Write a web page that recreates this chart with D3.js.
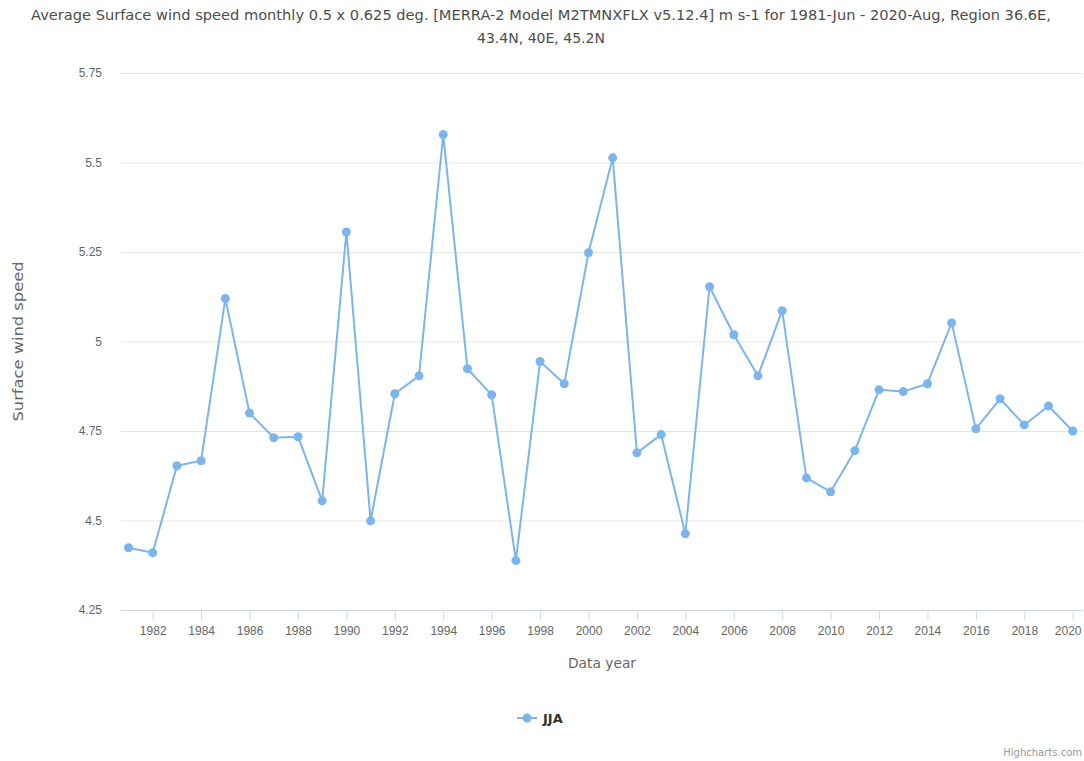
<!DOCTYPE html>
<html>
<head>
<meta charset="utf-8">
<script src="https://cdn.jsdelivr.net/npm/d3@7/dist/d3.min.js"></script>
<style>
  html, body { margin: 0; padding: 0; background: #ffffff; }
  svg { display: block; font-family: "DejaVu Sans", "Lucida Grande", Arial, sans-serif; }
</style>
</head>
<body>
<svg id="chart" width="1084" height="761"></svg>
<script>
// Summer (JJA) mean surface wind speed, m s-1
const years = d3.range(1981, 2021);
const jja = [
  4.424, 4.41, 4.653, 4.667, 5.12, 4.80, 4.731, 4.734, 4.555, 5.306,
  4.499, 4.854, 4.904, 5.578, 4.924, 4.851, 4.388, 4.944, 4.882, 5.248,
  5.513, 4.689, 4.74, 4.463, 5.153, 5.019, 4.904, 5.086, 4.619, 4.580,
  4.695, 4.865, 4.86, 4.882, 5.052, 4.756, 4.84, 4.767, 4.82, 4.75
];
const yTicks = [4.25, 4.5, 4.75, 5, 5.25, 5.5, 5.75];
const xTicks = d3.range(1982, 2021, 2);
const titleLines = [
  "Average Surface wind speed monthly 0.5 x 0.625 deg. [MERRA-2 Model M2TMNXFLX v5.12.4] m s-1 for 1981-Jun - 2020-Aug, Region 36.6E,",
  "43.4N, 40E, 45.2N"
];
const seriesName = "JJA";
const yTitle = "Surface wind speed";
const xTitle = "Data year";

const svg = d3.select("#chart");
const plot = { left: 121, right: 1083, top: 73, bottom: 610 };
const color = "#7cb5ec";

const x = d3.scaleLinear().domain([1981, 2020]).range([128.5, 1072.7]);
const y = d3.scaleLinear().domain([4.25, 5.75]).range([plot.bottom, plot.top]);

// Title (two centred lines)
const title = svg.append("text")
  .attr("text-anchor", "middle")
  .attr("fill", "#4d4d4d")
  .style("font-size", "14.5px");
title.append("tspan").attr("x", 541).attr("y", 20)
  .attr("textLength", 1020).attr("lengthAdjust", "spacingAndGlyphs")
  .text(titleLines[0]);
title.append("tspan").attr("x", 541).attr("y", 43)
  .attr("textLength", 128).attr("lengthAdjust", "spacingAndGlyphs")
  .text(titleLines[1]);

// Horizontal grid lines and y labels
const yAxis = d3.axisLeft(y).tickValues(yTicks).tickSize(-(plot.right - plot.left))
  .tickFormat(d => String(d)).tickPadding(19);
const gy = svg.append("g").attr("transform", `translate(${plot.left},0)`).call(yAxis);
gy.select(".domain").remove();
gy.selectAll(".tick line").attr("stroke", "#e6e6e6").attr("stroke-width", 1);
gy.selectAll(".tick text").attr("fill", "#666666").style("font-size", "12px");

// X axis with ticks on even years
const xAxis = d3.axisBottom(x).tickValues(xTicks).tickSize(10).tickPadding(6)
  .tickFormat(d3.format("d"));
const gx = svg.append("g").attr("transform", `translate(0,${plot.bottom})`).call(xAxis);
gx.select(".domain").attr("d", `M${plot.left},0.5H${plot.right}`).attr("stroke", "#ccd6eb");
gx.selectAll(".tick line").attr("stroke", "#ccd6eb");
gx.selectAll(".tick text").attr("fill", "#666666").style("font-size", "12px");
// keep the last label inside the chart edge
gx.selectAll(".tick text").filter(d => d === 2020)
  .attr("text-anchor", "end").attr("x", 1081 - x(2020));

// Axis titles
svg.append("text")
  .attr("transform", `translate(23,${(plot.top + plot.bottom) / 2}) rotate(-90)`)
  .attr("text-anchor", "middle").attr("fill", "#666666")
  .style("font-size", "14px")
  .attr("textLength", 160).attr("lengthAdjust", "spacingAndGlyphs")
  .text(yTitle);
svg.append("text")
  .attr("x", (plot.left + plot.right) / 2).attr("y", 668)
  .attr("text-anchor", "middle").attr("fill", "#666666")
  .style("font-size", "13.5px")
  .attr("textLength", 68).attr("lengthAdjust", "spacingAndGlyphs")
  .text(xTitle);

// Series line and markers
const data = years.map((yr, i) => ({ yr, v: jja[i] }));
svg.append("path").datum(data)
  .attr("fill", "none").attr("stroke", color).attr("stroke-width", 2)
  .attr("stroke-linejoin", "round").attr("stroke-linecap", "round")
  .attr("d", d3.line().x(d => x(d.yr)).y(d => y(d.v)));
svg.append("g").selectAll("circle").data(data).join("circle")
  .attr("cx", d => x(d.yr)).attr("cy", d => y(d.v)).attr("r", 4.5)
  .attr("fill", color);

// Legend
const lg = svg.append("g").attr("transform", "translate(517,718)");
lg.append("path").attr("d", "M0,0H20").attr("stroke", color).attr("stroke-width", 2);
lg.append("circle").attr("cx", 10).attr("cy", 0).attr("r", 4.5).attr("fill", color);
lg.append("text").attr("x", 26).attr("y", 5).attr("fill", "#333333")
  .style("font-size", "13px").style("font-weight", "bold").text(seriesName);

// Credits
svg.append("text").attr("x", 1082).attr("y", 756).attr("text-anchor", "end")
  .attr("fill", "#999999").style("font-size", "10px").text("Highcharts.com");
</script>
</body>
</html>
